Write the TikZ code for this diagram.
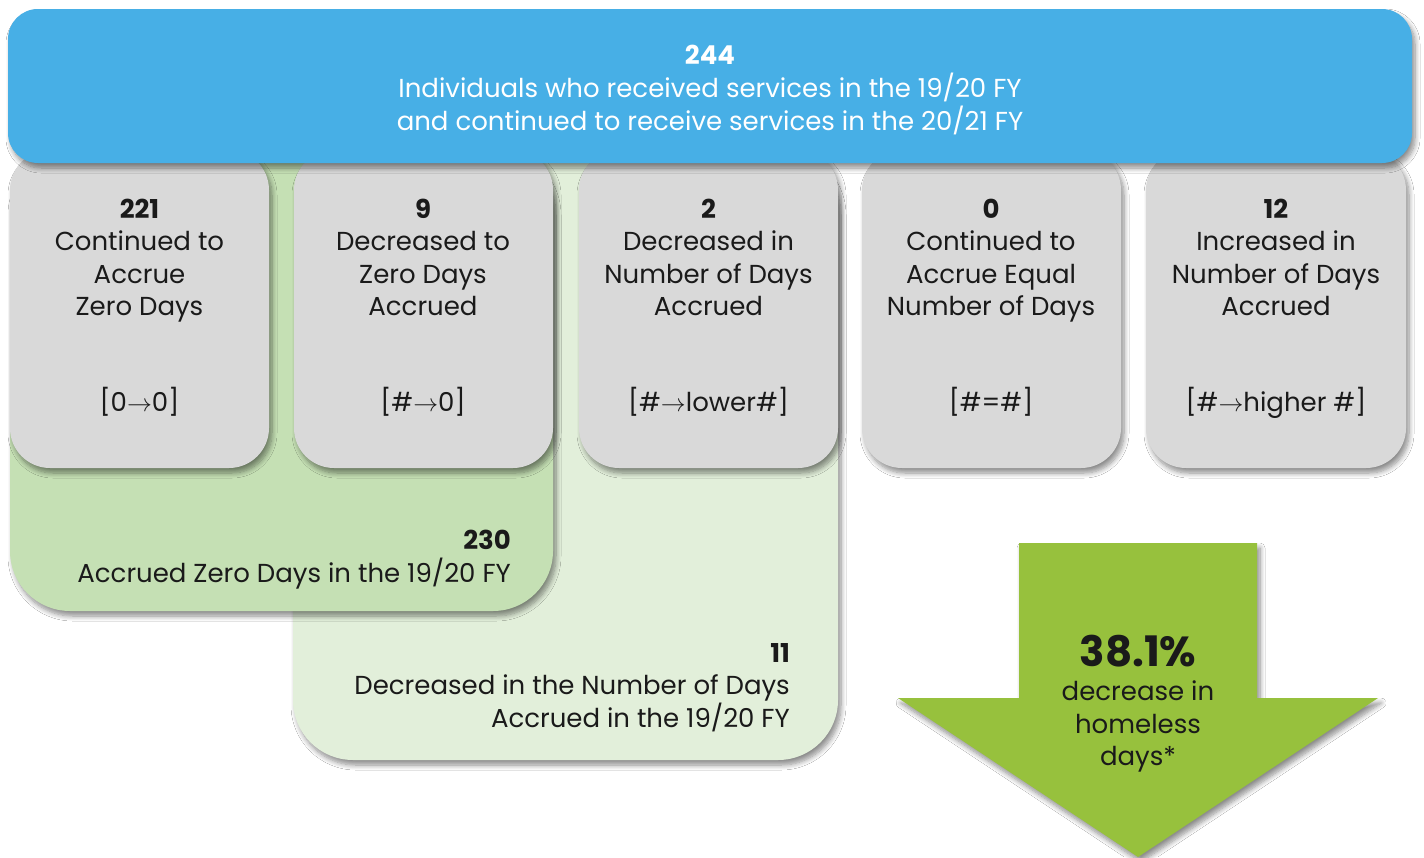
\documentclass[tikz,border=0pt]{standalone}
\usepackage{fontspec}
\setmainfont{Poppins}
\usetikzlibrary{shadows.blur}
\definecolor{blueb}{HTML}{47AFE6}
\definecolor{grayb}{HTML}{D9D9D9}
\definecolor{dgreen}{HTML}{C5E0B4}
\definecolor{lgreen}{HTML}{E2EFDA}
\definecolor{agreen}{HTML}{97C13D}
\definecolor{txt}{HTML}{1A1A1A}
\begin{document}
\begin{tikzpicture}[x=1pt,y=-1pt,
  shd/.style={blur shadow={shadow xshift=3pt,shadow yshift=-5pt,shadow blur radius=5pt,shadow blur steps=8,shadow opacity=45}},
  panel/.style={shd,draw=none,anchor=north west,inner sep=0pt,outer sep=0pt},
  graybox/.style={panel,fill=grayb,rounded corners=40pt,minimum width=259pt,minimum height=318pt},
  body/.style={text=txt,font=\fontsize{26}{32.3}\selectfont,align=center,inner sep=0pt},
  rbody/.style={text=txt,font=\fontsize{26}{32.5}\selectfont,align=right,inner sep=0pt,anchor=north east},
  wbody/.style={text=white,font=\fontsize{26}{33}\selectfont,align=center,inner sep=0pt,anchor=north}
]
\useasboundingbox (0,0) rectangle (1424,857);
\fill[white] (0,0) rectangle (1424,857);
% green panels
\node[panel,fill=lgreen,rounded corners=60pt,minimum width=545pt,minimum height=610pt] (g2) at (293,150) {};
\node[panel,fill=dgreen,rounded corners=60pt,minimum width=543pt,minimum height=461pt] (g1) at (10,150) {};
% gray boxes
\node[graybox] (b1) at (10,150) {};
\node[graybox] (b2) at (294,150) {};
\node[graybox] (b3) at (579,150) {};
\node[graybox] (b4) at (862,150) {};
\node[graybox,minimum width=260pt] (b5) at (1146,150) {};
% blue header
\node[panel,fill=blueb,rounded corners=30pt,minimum width=1404pt,minimum height=154pt] (top) at (8,9) {};
\node[wbody] (t1) at (710,45) {\textbf{244}\\Individuals who received services in the 19/20 FY\\and continued to receive services in the 20/21 FY};
% gray box texts
\tikzset{gtext/.style={body,anchor=north}}
\node[gtext] (l1) at (139.5,199) {\textbf{221}\\Continued to\\Accrue\\Zero Days};
\node[gtext] (l2) at (423,199) {\textbf{9}\\Decreased to\\Zero Days\\Accrued};
\node[gtext] (l3) at (708.5,199) {\textbf{2}\\Decreased in\\Number of Days\\Accrued};
\node[gtext] (l4) at (991,199) {\textbf{0}\\Continued to\\Accrue Equal\\Number of Days};
\node[gtext] (l5) at (1276,199) {\textbf{12}\\Increased in\\Number of Days\\Accrued};
\node[body,anchor=base] (c1) at (139.5,411) {[0$\rightarrow$0]};
\node[body,anchor=base] (c2) at (423,411) {[\#$\rightarrow$0]};
\node[body,anchor=base] (c3) at (708.5,411) {[\#$\rightarrow$lower\#]};
\node[body,anchor=base] (c4) at (991,411) {[\#=\#]};
\node[body,anchor=base] (c5) at (1276,411) {[\#$\rightarrow$higher \#]};
% green panel texts
\node[rbody] (z1) at (511,530) {\textbf{230}\\Accrued Zero Days in the 19/20 FY};
\node[rbody] (z2) at (790,643) {\textbf{11}\\Decreased in the Number of Days\\Accrued in the 19/20 FY};
% arrow
\path[shd,fill=agreen] (1019,543) -- (1257,543) -- (1257,698) -- (1378,698) -- (1138,857) -- (898,698) -- (1019,698) -- cycle;
\node[body] (a0) at (1138,651) {\fontsize{42}{44}\selectfont\textbf{38.1\%}};
\node[body,anchor=north] (a1) at (1138,681) {decrease in\\homeless\\days*};
\end{tikzpicture}
\end{document}
